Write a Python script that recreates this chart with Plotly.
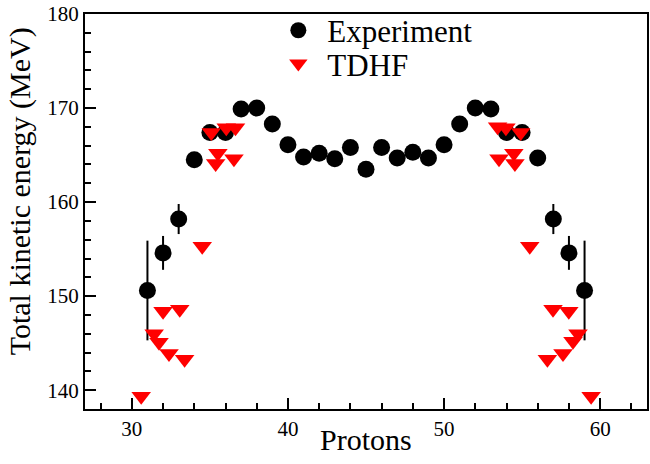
import plotly.graph_objects as go

# Experimental data
exp_z = list(range(31, 60))
exp_tke = [150.6, 154.6, 158.2, 164.5, 167.4, 167.4, 169.9, 170.0, 168.3, 166.1,
           164.8, 165.2, 164.6, 165.8, 163.5, 165.8, 164.7, 165.3, 164.7, 166.1,
           168.3, 170.0, 169.9, 167.4, 167.4, 164.7, 158.2, 154.6, 150.6]
exp_err = [5.3, 1.8, 1.6, 0, 0, 0, 0, 0, 0, 0,
           0, 0, 0, 0, 0, 0, 0, 0, 0, 0,
           0, 0, 0, 0, 0, 0, 1.6, 1.8, 5.3]

# TDHF data
tdhf_z = [30.6, 31.43, 31.74, 32.0, 32.38, 33.07, 33.38, 34.51, 35.09, 35.37, 35.51, 36.05, 36.54, 36.64,
          53.43, 53.52, 53.96, 54.47, 54.54, 54.91, 55.49, 56.62, 56.98, 57.62, 57.99, 58.26, 58.58, 59.42]
tdhf_tke = [139.35, 146.0, 145.1, 148.4, 143.9, 148.6, 143.3, 155.3, 167.4, 164.1, 165.2, 167.9, 164.6, 167.9,
            168.0, 164.6, 167.9, 165.2, 164.1, 167.4, 155.3, 143.3, 148.6, 143.9, 148.4, 145.2, 146.0, 139.35]

FONT = "Liberation Serif"

fig = go.Figure()
fig.add_trace(go.Scatter(
    x=exp_z, y=exp_tke, mode="markers", name="Experiment", legend="legend",
    marker=dict(symbol="circle", size=17, color="black"),
    error_y=dict(type="data", array=exp_err, visible=True, color="black",
                 thickness=2, width=0),
))
fig.add_trace(go.Scatter(
    x=tdhf_z, y=tdhf_tke, mode="markers", name="TDHF", legend="legend2",
    marker=dict(symbol="triangle-down", size=17, color="#ff0000"),
))

axis_common = dict(
    showline=True, linecolor="black", linewidth=2, mirror=True,
    ticks="inside", ticklen=11, tickwidth=1.5, tickcolor="black",
    showgrid=False, zeroline=False,
    tickfont=dict(family=FONT, size=21, color="black"),
)

fig.update_xaxes(range=[27, 63], tickvals=[30, 40, 50, 60], **axis_common,
                 minor=dict(ticks="inside", dtick=2, tick0=0, ticklen=6, tickwidth=1.5, tickcolor="black"))
fig.update_yaxes(range=[138, 180], tickvals=[140, 150, 160, 170, 180], **axis_common,
                 minor=dict(ticks="inside", dtick=2, tick0=0, ticklen=6, tickwidth=1.5, tickcolor="black"))

fig.add_annotation(text="Total kinetic energy (MeV)", textangle=-90,
                   xref="paper", yref="paper", x=-0.115, y=0.552,
                   xanchor="center", yanchor="middle",
                   showarrow=False, font=dict(family=FONT, size=30, color="black"))
fig.add_annotation(text="Protons",
                   xref="paper", yref="paper", x=0.5, y=-0.078,
                   xanchor="center", yanchor="middle",
                   showarrow=False, font=dict(family=FONT, size=30, color="black"))

leg_common = dict(xanchor="left", yanchor="middle", bgcolor="rgba(0,0,0,0)",
                  itemwidth=48, font=dict(family=FONT, size=31, color="black"))

fig.update_layout(
    width=650, height=464,
    margin=dict(l=85, r=1, t=14, b=55),
    plot_bgcolor="white", paper_bgcolor="white",
    font=dict(family=FONT, color="black"),
    showlegend=True,
    legend=dict(x=0.328, y=0.958, **leg_common),
    legend2=dict(x=0.328, y=0.874, **leg_common),
)

fig.write_html("out.html")
